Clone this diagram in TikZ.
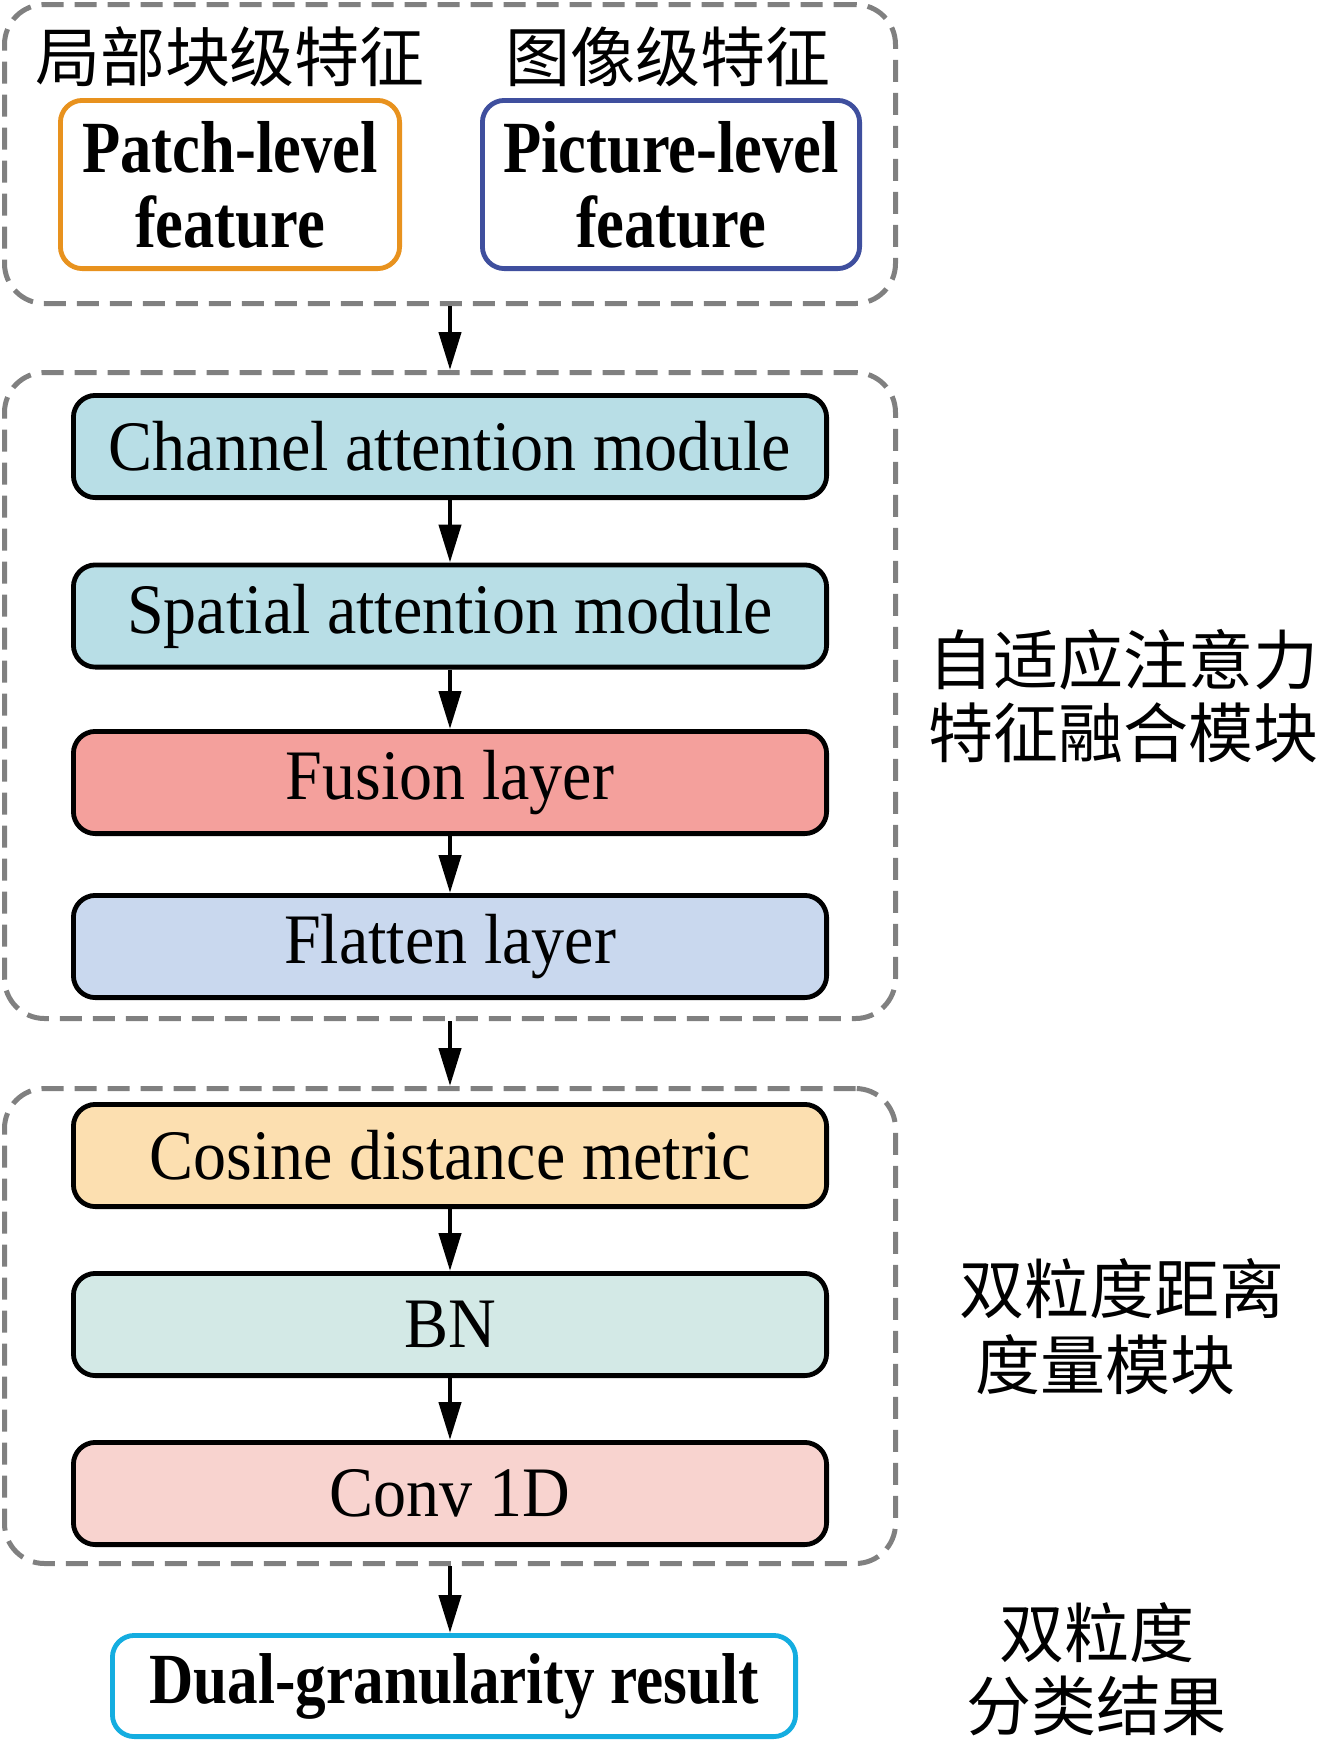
\documentclass[tikz,border=0pt]{standalone}
\usepackage{fontspec}
\setmainfont{Liberation Serif}[FakeStretch=0.93]
\newfontfamily\bcond{Liberation Serif}[FakeStretch=0.85]
\newfontfamily\cjk{Noto Sans CJK SC}
\usetikzlibrary{arrows.meta}
\definecolor{dashgray}{HTML}{808080}
\definecolor{patchc}{HTML}{E8921E}
\definecolor{picc}{HTML}{3F4F9E}
\definecolor{resc}{HTML}{14ADE0}
\definecolor{attc}{HTML}{B8DEE6}
\definecolor{fusc}{HTML}{F4A09C}
\definecolor{flac}{HTML}{C9D8EE}
\definecolor{cosc}{HTML}{FCDFB0}
\definecolor{bnc}{HTML}{D3E9E6}
\definecolor{convc}{HTML}{F8D3CF}
\begin{document}
\begin{tikzpicture}[x=0.5pt,y=-0.5pt,
  grp/.style={draw=dashgray, line width=2.5pt, dash pattern=on 11pt off 5.5pt, rounded corners=20pt, inner sep=0pt},
  blk/.style={draw=black, line width=2.4pt, rounded corners=11pt, minimum width=376.6pt, minimum height=51.1pt, inner sep=0pt, font=\fontsize{35.5}{40}\selectfont},
  feat/.style={line width=2.4pt, rounded corners=11pt, minimum height=84.1pt, inner sep=0pt, align=center, font=\bcond\bfseries\fontsize{36.8}{37.5}\selectfont},
  cjklab/.style={inner sep=0pt, font=\cjk\fontsize{32.5}{36.5}\selectfont},
  arr/.style={line width=2.2pt, -{Triangle[length=19pt,width=11pt]}}
]
\useasboundingbox (0,0) rectangle (1319,1742);

% groups
\node[grp, minimum width=445.5pt, minimum height=149.5pt] (g1) at (450,154) {};
\node[grp, minimum width=445.5pt, minimum height=323pt] (g2) at (450,695.5) {};
\node[grp, minimum width=445.5pt, minimum height=237.5pt] (g3) at (450,1326) {};

% top labels
\node[cjklab] (l1) at (230,57) {局部块级特征};
\node[cjklab] (l2) at (668,57) {图像级特征};

\node[feat, draw=patchc, minimum width=169.6pt] (patch) at (230,184.5) {Patch-level\\feature};
\node[feat, draw=picc, minimum width=188.6pt] (pic) at (671,184.5) {Picture-level\\feature};

% middle blocks
\node[blk, fill=attc] (chan) at (450,446.5) {Channel attention module};
\node[blk, fill=attc] (spat) at (450,616) {Spatial attention module};
\node[blk, fill=fusc] (fus) at (450,782.5) {Fusion layer};
\node[blk, fill=flac] (fla) at (450,946.5) {Flatten layer};

% bottom blocks
\node[blk, fill=cosc] (cos) at (450,1155.5) {Cosine distance metric};
\node[blk, fill=bnc] (bn) at (450,1324.5) {BN};
\node[blk, fill=convc] (conv) at (450,1493.5) {Conv 1D};

% result
\node[draw=resc, line width=2.4pt, rounded corners=11pt, minimum width=341.6pt, minimum height=50.6pt, inner sep=0pt, font=\bcond\bfseries\fontsize{36}{40}\selectfont] (res) at (454,1686) {Dual-granularity result};

% right labels
\node[cjklab] (r1a) at (1123,660) {自适应注意力};
\node[cjklab] (r1b) at (1123,733) {特征融合模块};
\node[cjklab] (r2a) at (1122,1289) {双粒度距离};
\node[cjklab] (r2b) at (1105,1365) {度量模块};
\node[cjklab] (r3a) at (1097,1633) {双粒度};
\node[cjklab] (r3b) at (1096,1706) {分类结果};

% arrows
\draw[arr] (g1) -- (g2);
\draw[arr] (chan) -- (spat);
\draw[arr] (spat) -- (fus);
\draw[arr] (fus) -- (fla);
\draw[arr] (g2) -- (g3);
\draw[arr] (cos) -- (bn);
\draw[arr] (bn) -- (conv);
\draw[arr] (g3.south) -- (res.north -| g3.south);
\end{tikzpicture}
\end{document}
